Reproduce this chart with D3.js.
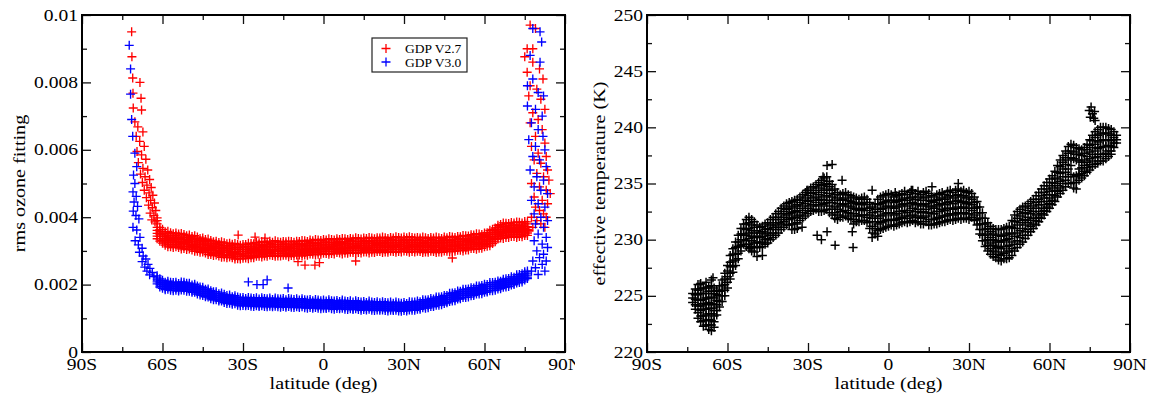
<!DOCTYPE html>
<html><head><meta charset="utf-8">
<script src="https://cdn.jsdelivr.net/npm/d3@7"></script>
<style>
body{margin:0;background:#fff}
svg{display:block}
text{font-family:"Liberation Serif","Times New Roman",serif;fill:#000}
</style>
</head><body>
<svg id="chart" width="1153" height="401"></svg>
<script>
// ---------- axis ticks ----------
const latTicks = [-90, -60, -30, 0, 30, 60, 90];
const latTickLabels = ["90S", "60S", "30S", "0", "30N", "60N", "90N"];
const latMinorTicks = [-75, -45, -15, 15, 45, 75];
const ozoneTicks = [0, 0.002, 0.004, 0.006, 0.008, 0.01];
const ozoneTickLabels = ["0", "0.002", "0.004", "0.006", "0.008", "0.01"];
const ozoneMinorTicks = [0.001, 0.003, 0.005, 0.007, 0.009];
const tempTicks = [220, 225, 230, 235, 240, 245, 250];
const tempTickLabels = ["220", "225", "230", "235", "240", "245", "250"];
const tempMinorTicks = [222.5, 227.5, 232.5, 237.5, 242.5, 247.5];
const seriesNames = ["GDP V2.7", "GDP V3.0"];

// rms values below are written in units of 1e-5 (e.g. 336 = 0.00336)
const RMS_UNIT = 1e-5;

// ---------- GDP V2.7 rms: rows = [latitude, values read at that latitude] ----------
const redBandRows = [
[-62,390,380,370,361,352,344,336],[-61,370,363,356,350,343,336,329],[-60,364,357,350,344,337,330,323],
[-59,357,351,343,335,330,324,317],[-58,358,346,339,332,326,319,312],[-57,354,346,340,333,327,319,312],
[-56,351,344,337,331,324,317,310],[-55,353,346,339,333,326,319,312],[-54,350,344,336,328,323,317,310],
[-53,352,340,333,326,320,313,306],[-52,349,341,335,328,322,314,307],[-51,345,338,331,325,318,311,304],
[-50,347,340,333,327,320,313,306],[-49,343,337,329,321,316,310,303],[-48,345,333,326,319,313,306,299],
[-47,341,333,327,320,314,306,299],[-46,337,330,323,317,310,303,296],[-45,338,331,324,318,311,304,297],
[-44,334,328,320,312,307,301,294],[-43,335,323,316,309,303,296,289],[-42,331,323,317,310,304,296,289],
[-41,327,320,313,307,300,293,286],[-40,329,322,315,309,302,295,288],[-39,325,319,311,303,298,292,285],
[-38,327,315,308,301,295,288,281],[-37,324,316,310,303,297,289,282],[-36,321,314,307,301,294,287,280],
[-35,323,316,309,303,296,289,282],[-34,320,314,306,298,293,287,280],[-33,322,310,303,296,290,283,276],
[-32,319,311,305,298,292,284,277],[-31,317,310,303,297,290,283,276],[-30,319,312,305,299,292,285,278],
[-29,319,313,305,297,292,286,279],[-28,323,311,304,297,291,284,277],[-27,322,314,308,301,295,287,280],
[-26,321,314,307,301,294,287,280],[-25,325,318,311,305,298,291,284],[-24,324,318,310,302,297,291,284],
[-23,328,316,309,302,296,289,282],[-22,327,319,313,306,300,292,285],[-21,325,318,311,305,298,291,284],
[-20,329,322,315,309,302,295,288],[-19,326,320,312,304,299,293,286],[-18,330,318,311,304,298,291,284],
[-17,327,319,313,306,300,292,285],[-16,326,319,312,306,299,292,285],[-15,328,321,314,308,301,294,287],
[-14,327,321,313,305,300,294,287],[-13,329,317,310,303,297,290,283],[-12,328,320,314,307,301,293,286],
[-11,326,319,312,306,299,292,285],[-10,329,322,315,309,302,295,288],[-9,328,322,314,306,301,295,288],
[-8,331,319,312,305,299,292,285],[-7,330,322,316,309,303,295,288],[-6,328,321,314,308,301,294,287],
[-5,332,325,318,312,305,298,291],[-4,330,324,316,308,303,297,290],[-3,334,322,315,308,302,295,288],
[-2,332,324,318,311,305,297,290],[-1,331,324,317,311,304,297,290],[0,334,327,320,314,307,300,293],
[1,332,326,318,310,305,299,292],[2,336,324,317,310,304,297,290],[3,334,326,320,313,307,299,292],
[4,332,325,318,312,305,298,291],[5,336,329,322,316,309,302,295],[6,334,328,320,312,307,301,294],
[7,337,325,318,311,305,298,291],[8,336,328,322,315,309,301,294],[9,334,327,320,314,307,300,293],
[10,337,330,323,317,310,303,296],[11,335,329,321,313,308,302,295],[12,339,327,320,313,307,300,293],
[13,337,329,323,316,310,302,295],[14,335,328,321,315,308,301,294],[15,338,331,324,318,311,304,297],
[16,337,331,323,315,310,304,297],[17,340,328,321,314,308,301,294],[18,338,330,324,317,311,303,296],
[19,336,329,322,316,309,302,295],[20,339,332,325,319,312,305,298],[21,338,332,324,316,311,305,298],
[22,341,329,322,315,309,302,295],[23,339,331,325,318,312,304,297],[24,337,330,323,317,310,303,296],
[25,340,333,326,320,313,306,299],[26,338,332,324,316,311,305,298],[27,342,330,323,316,310,303,296],
[28,340,332,326,319,313,305,298],[29,338,331,324,318,311,304,297],[30,341,334,327,321,314,307,300],
[31,339,333,325,317,312,306,299],[32,342,330,323,316,310,303,296],[33,340,332,326,319,313,305,298],
[34,338,331,324,318,311,304,297],[35,340,333,326,320,313,306,299],[36,338,332,324,316,311,305,298],
[37,341,329,322,315,309,302,295],[38,339,331,325,318,312,304,297],[39,337,330,323,317,310,303,296],
[40,340,333,326,320,313,306,299],[41,338,332,324,316,311,305,298],[42,341,329,322,315,309,302,295],
[43,339,331,325,318,312,304,297],[44,337,330,323,317,310,303,296],[45,341,334,327,321,314,307,300],
[46,339,333,325,317,312,306,299],[47,343,331,324,317,311,304,297],[48,341,333,327,320,314,306,299],
[49,340,333,326,320,313,306,299],[50,343,336,329,323,316,309,302],[51,342,336,328,320,315,309,302],
[52,346,334,327,320,314,307,300],[53,345,337,331,324,318,310,303],[54,344,337,330,324,317,310,303],
[55,348,341,334,328,321,314,307],[56,347,341,333,325,320,314,307],[57,351,339,332,325,319,312,305],
[58,350,342,336,329,323,315,308],[59,349,342,335,329,322,315,308],[60,353,346,339,333,326,319,312],
[61,354,348,340,332,327,321,314],[62,361,349,342,335,329,322,315],[63,364,356,350,343,337,329,322],
[64,368,361,354,348,341,334,327],[65,376,369,362,356,349,342,335],[66,378,372,364,356,351,345,338],
[67,383,371,364,357,351,344,337],[68,382,374,368,361,355,347,340],[69,381,374,367,361,354,347,340],
[70,384,377,370,364,357,350,343],[71,383,377,369,361,356,350,343],[72,386,374,367,360,354,347,340],
[73,385,377,371,364,358,350,343],[74,383,376,369,363,356,349,342],[75,387,380,373,367,360,353,346],
[76,386,380,372,364,359,353,346]
];
const redEdgePoints = [
[-71.5,950],[-71.4,876],[-71.1,813],[-68.4,800],[-71.0,768],[-68.0,753],[-70.9,724],[-67.8,718],[-70.3,683],
[-69.2,668],[-67.3,653],[-69.8,640],[-68.5,625],[-66.8,610],[-69.5,595],[-67.8,585],[-66.2,572],[-69.0,562],
[-67.3,545],[-65.5,540],[-68.2,528],[-66.5,520],[-64.8,512],[-67.5,503],[-65.8,495],[-64.2,488],[-66.8,480],
[-65.0,472],[-63.6,465],[-66.0,458],[-64.4,450],[-63.0,442],[-65.2,436],[-63.8,428],[-62.5,420],[-64.6,412],
[-63.2,405],[-62.0,398],[-64.0,392],[-62.8,386],
[-31.8,347],[-25.5,341],[-21.8,338],[-6.9,258],[-3.2,258],[48,279],[-9.5,268],[-1.5,265],[12,270],
[77,970],[79,960],[75.9,900],[78,900],[75,876],[78,860],[80.5,840],[75.9,830],[81.8,810],[77,790],[79.5,780],
[76.5,760],[81,750],[82.5,720],[78,710],[80,690],[77,680],[81.5,660],[79,640],[82.5,620],[77.5,610],[80,590],
[83,580],[78.5,570],[81,560],[83.5,540],[79.5,530],[82,520],[84,510],[77.5,500],[80.5,490],[83,480],[84.5,470],
[78.5,460],[81.5,450],[83.5,440],[79,430],[80.5,420],[82,410],[77.5,400],[83,400],[79.5,390],[81,380],[78,370],
[82.5,370],[76.5,360]
];

// ---------- GDP V3.0 rms ----------
const blueBandRows = [
[-62,226,220,214,208,202],[-61,217,211,205,199,193],[-60,213,207,201,195,189],[-59,207,201,195,189,185],
[-58,210,204,198,192,186],[-57,207,201,195,189,183],[-56,206,200,194,188,182],[-55,207,201,195,189,183],
[-54,203,197,191,185,181],[-53,208,202,196,190,184],[-52,207,201,195,189,183],[-51,204,198,192,186,180],
[-50,204,198,192,186,180],[-49,199,193,187,181,177],[-48,201,195,189,183,177],[-47,196,190,184,178,172],
[-46,193,187,181,175,169],[-45,192,186,180,174,168],[-44,186,180,174,168,164],[-43,187,181,175,169,163],
[-42,182,176,170,164,158],[-41,179,173,167,161,155],[-40,179,173,167,161,155],[-39,173,167,161,155,151],
[-38,175,169,163,157,151],[-37,171,165,159,153,147],[-36,168,162,156,150,144],[-35,169,163,157,151,145],
[-34,164,158,152,146,142],[-33,167,161,155,149,143],[-32,163,157,151,145,139],[-31,161,155,149,143,137],
[-30,162,156,150,144,138],[-29,159,153,147,141,137],[-28,162,156,150,144,138],[-27,160,154,148,142,136],
[-26,159,153,147,141,135],[-25,161,155,149,143,137],[-24,157,151,145,139,135],[-23,161,155,149,143,137],
[-22,159,153,147,141,135],[-21,158,152,146,140,134],[-20,160,154,148,142,136],[-19,156,150,144,138,134],
[-18,160,154,148,142,136],[-17,158,152,146,140,134],[-16,157,151,145,139,133],[-15,159,153,147,141,135],
[-14,155,149,143,137,133],[-13,159,153,147,141,135],[-12,157,151,145,139,133],[-11,156,150,144,138,132],
[-10,158,152,146,140,134],[-9,154,148,142,136,132],[-8,158,152,146,140,134],[-7,155,149,143,137,131],
[-6,154,148,142,136,130],[-5,156,150,144,138,132],[-4,152,146,140,134,130],[-3,156,150,144,138,132],
[-2,154,148,142,136,130],[-1,152,146,140,134,128],[0,154,148,142,136,130],[1,151,145,139,133,129],
[2,155,149,143,137,131],[3,152,146,140,134,128],[4,151,145,139,133,127],[5,153,147,141,135,129],
[6,150,144,138,132,128],[7,154,148,142,136,130],[8,151,145,139,133,127],[9,150,144,138,132,126],
[10,152,146,140,134,128],[11,148,142,136,130,126],[12,152,146,140,134,128],[13,150,144,138,132,126],
[14,148,142,136,130,124],[15,150,144,138,132,126],[16,147,141,135,129,125],[17,151,145,139,133,127],
[18,148,142,136,130,124],[19,147,141,135,129,123],[20,149,143,137,131,125],[21,146,140,134,128,124],
[22,149,143,137,131,125],[23,147,141,135,129,123],[24,146,140,134,128,122],[25,148,142,136,130,124],
[26,145,139,133,127,123],[27,148,142,136,130,124],[28,146,140,134,128,122],[29,145,139,133,127,121],
[30,147,141,135,129,123],[31,144,138,132,126,122],[32,149,143,137,131,125],[33,148,142,136,130,124],
[34,148,142,136,130,124],[35,151,145,139,133,127],[36,149,143,137,131,127],[37,155,149,143,137,131],
[38,154,148,142,136,130],[39,155,149,143,137,131],[40,159,153,147,141,135],[41,157,151,145,139,135],
[42,163,157,151,145,139],[43,163,157,151,145,139],[44,164,158,152,146,140],[45,168,162,156,150,144],
[46,168,162,156,150,146],[47,174,168,162,156,150],[48,175,169,163,157,151],[49,176,170,164,158,152],
[50,181,175,169,163,157],[51,180,174,168,162,158],[52,186,180,174,168,162],[53,186,180,174,168,162],
[54,187,181,175,169,163],[55,191,185,179,173,167],[56,190,184,178,172,168],[57,196,190,184,178,172],
[58,196,190,184,178,172],[59,197,191,185,179,173],[60,201,195,189,183,177],[61,200,194,188,182,178],
[62,206,200,194,188,182],[63,206,200,194,188,182],[64,207,201,195,189,183],[65,211,205,199,193,187],
[66,210,204,198,192,188],[67,216,210,204,198,192],[68,217,211,205,199,193],[69,218,212,206,200,194],
[70,223,217,211,205,199],[71,222,216,210,204,200],[72,229,223,217,211,205],[73,230,224,218,212,206],
[74,232,226,220,214,208],[75,238,232,226,220,214],[76,240,234,228,222,218]
];
const blueEdgePoints = [
[-72.4,910],[-71.9,840],[-71.9,765],[-71.5,690],[-71.1,640],[-70.3,590],[-69.6,550],[-70.8,525],[-70.3,500],
[-71.0,475],[-69.8,462],[-70.6,445],[-69.3,432],[-70.9,418],[-69.9,405],[-68.8,395],[-71.0,370],[-69.6,362],
[-68.4,340],[-70.2,330],[-69.0,318],[-67.6,308],[-68.6,296],[-67.2,285],[-66.2,276],[-67.6,268],[-65.4,260],
[-66.6,252],[-64.7,248],[-65.8,240],[-63.8,236],[-64.8,229],[-63.2,224],
[-28,208],[-24.8,200],[-22.5,200],[-21,214],[-13.2,190],
[78,960],[80.7,950],[81.3,920],[77,880],[80.7,860],[78,810],[76,790],[80,770],[82,760],[76,730],[79,720],[81.5,700],
[77.5,680],[80,660],[81.8,640],[76.5,630],[79,610],[82.5,600],[78,580],[80.5,570],[83,550],[77,540],[79.5,520],
[82,510],[78.5,490],[81,480],[83.5,470],[77.5,450],[80,440],[82.5,430],[78.5,410],[81,400],[83.5,390],[79,380],
[82,370],[80,350],[83,340],[78.5,330],[81.5,320],[83.5,310],[79.5,300],[82,290],[80.5,280],[83,270],[78,270],
[81.5,260],[79,250],[82.5,240],[80,230],[77.5,240]
];

// ---------- effective temperature (K) ----------
const tempRows = [
[-73,225.2,224.8,224.4],[-72,225.6,225.1,224.7,224.2,223.8],[-71,226.0,225.5,225.1,224.6,224.1,223.5,223.0],
[-70,226.1,225.6,225.2,224.6,224.1,223.7,223.2,222.7],[-69,225.7,225.2,224.7,224.3,223.8,223.2,222.8,222.3],
[-68,226.2,225.7,225.2,224.8,224.2,223.8,223.3,222.8,222.4],[-67,225.8,225.4,224.8,224.4,223.9,223.4,222.9,222.4,222.0],
[-66,226.4,225.9,225.4,224.9,224.3,223.9,223.4,222.8,222.4,221.9],[-65,225.7,225.2,224.8,224.2,223.7,223.2,222.7,222.2],
[-64,225.5,225.1,224.6,224.2,223.7,223.3],[-63,225.9,225.4,225.0,224.5,224.0],[-62,226.4,225.9,225.5,225.0,224.5],
[-61,227.0,226.5,226.0,225.5,225.0],[-60,227.7,227.2,226.7,226.2,225.7],[-59,228.6,228.0,227.6,227.0,226.5],
[-58,229.2,228.7,228.1,227.6,227.1],[-57,229.8,229.3,228.7,228.2,227.7],[-56,230.4,229.8,229.4,228.8,228.3],
[-55,231.0,230.5,230.0,229.5,229.0],[-54,231.4,231.0,230.5,230.0,229.6],[-53,231.8,231.4,230.9,230.4,229.9,229.4],
[-52,232.0,231.5,231.0,230.6,230.1,229.6,229.2],[-51,231.8,231.3,230.8,230.3,229.9,229.4,229.0],
[-50,231.6,231.1,230.6,230.2,229.7,229.3,228.9],[-49,231.3,230.8,230.3,229.8,229.3],[-48,231.1,230.6,230.2,229.7,229.3],
[-47,231.2,230.7,230.3,229.8,229.4],[-46,231.4,230.9,230.5,230.0,229.6],[-45,231.5,231.0,230.6,230.1,229.7],
[-44,231.8,231.3,230.9,230.4,230.0],[-43,232.0,231.5,231.1,230.6,230.2],[-42,232.3,231.8,231.3,230.9,230.4],
[-41,232.5,232.0,231.5,231.1,230.6],[-40,232.8,232.3,231.8,231.4,230.9],[-39,233.0,232.5,232.0,231.6,231.1],
[-38,233.2,232.7,232.2,231.8,231.3],[-37,233.3,232.8,232.3,231.8,231.3],[-36,233.4,232.9,232.4,231.9,231.4,230.9],
[-35,233.5,233.0,232.5,232.0,231.4,230.9],[-34,233.6,233.1,232.6,232.1,231.5,231.0],[-33,233.8,233.3,232.8,232.2,231.7],
[-32,234.0,233.5,233.0,232.4,231.9],[-31,234.2,233.7,233.2,232.6,232.1],[-30,234.4,233.9,233.4,232.8,232.3],
[-29,234.6,234.1,233.5,233.0,232.5],[-28,234.7,234.2,233.7,233.1,232.6],[-27,234.9,234.4,233.8,233.3,232.7],
[-26,235.1,234.6,234.0,233.5,233.0,232.5],[-25,235.3,234.8,234.2,233.6,233.1,232.5],[-24,235.5,234.9,234.4,233.8,233.2,232.6],
[-23,235.6,235.0,234.5,233.9,233.3,232.7],[-22,235.2,234.7,234.1,233.5,233.0,232.4],[-21,234.9,234.4,233.8,233.3,232.7,232.2],
[-20,234.5,234.0,233.5,232.9,232.4,231.9],[-19,234.2,233.7,233.2,232.7,232.2,231.8],[-18,234.0,233.5,233.0,232.5,232.0],
[-17,234.1,233.6,233.1,232.5,232.0],[-16,234.2,233.7,233.2,232.6,232.1],[-15,234.0,233.5,233.0,232.4,231.9],
[-14,233.9,233.4,232.9,232.3,231.8],[-13,233.8,233.3,232.8,232.3,231.8,231.4],[-12,233.7,233.2,232.7,232.1,231.6],
[-11,233.6,233.1,232.6,232.1,231.6],[-10,233.7,233.2,232.7,232.2,231.7],[-9,233.8,233.3,232.8,232.2,231.7],
[-8,233.6,233.1,232.6,232.0,231.5],[-7,233.3,232.8,232.2,231.6,231.0],[-6,232.9,232.4,231.9,231.2,230.6],
[-5,233.2,232.7,232.1,231.6,231.0,230.5],[-4,233.6,233.1,232.5,231.9,231.4,230.8],[-3,233.8,233.2,232.7,232.1,231.5,230.9],
[-2,233.9,233.3,232.8,232.2,231.6,231.0],[-1,234.0,233.4,232.9,232.3,231.7,231.1],[0,234.1,233.5,233.0,232.4,231.8,231.2],
[1,234.0,233.5,232.9,232.4,231.8,231.3],[2,233.8,233.3,232.8,232.2,231.7,231.2],[3,233.9,233.4,232.9,232.3,231.8,231.3],
[4,234.0,233.5,233.0,232.5,231.9,231.4],[5,234.1,233.6,233.1,232.5,232.0,231.5],[6,234.3,233.7,233.2,232.6,232.1,231.6],
[7,234.0,233.5,233.0,232.4,231.9,231.5],[8,234.2,233.7,233.2,232.6,232.1,231.6],[9,234.4,233.8,233.3,232.8,232.2,231.7],
[10,234.1,233.6,233.1,232.5,232.0,231.5],[11,234.3,233.8,233.2,232.7,232.1,231.6],[12,234.0,233.5,233.0,232.4,231.9,231.4],
[13,234.2,233.7,233.1,232.5,232.0,231.4],[14,234.3,233.8,233.2,232.7,232.1,231.6],[15,234.1,233.5,233.0,232.4,231.8,231.3],
[16,233.9,233.4,232.9,232.3,231.8,231.3],[17,233.8,233.3,232.8,232.3,231.8,231.4],[18,234.0,233.5,233.0,232.5,231.9,231.4],
[19,234.1,233.6,233.1,232.5,232.0,231.5],[20,234.2,233.7,233.2,232.7,232.1,231.6],[21,234.0,233.6,233.1,232.6,232.1,231.6],
[22,234.3,233.8,233.3,232.8,232.2,231.7],[23,234.4,233.9,233.4,232.8,232.3,231.8],[24,234.2,233.7,233.2,232.7,232.2,231.7],
[25,234.4,233.9,233.4,232.8,232.3,231.8],[26,234.5,234.0,233.5,232.9,232.4,231.9],[27,234.3,233.8,233.3,232.8,232.3,231.8],
[28,234.4,233.9,233.4,232.9,232.4,231.9],[29,234.2,233.7,233.2,232.8,232.3,231.9],[30,234.3,233.8,233.3,232.8,232.3,231.8],
[31,234.1,233.6,233.1,232.6,232.0],[32,233.8,233.3,232.8,232.2,231.7],[33,233.4,232.9,232.4,231.8,231.3],
[34,232.9,232.4,231.9,231.4,230.9,230.5],[35,232.4,231.9,231.4,230.9,230.4,229.9],[36,231.9,231.4,230.9,230.4,229.9,229.4],
[37,231.5,231.0,230.5,230.0,229.5,229.0],[38,231.2,230.7,230.2,229.7,229.2,228.7],[39,231.0,230.5,230.0,229.5,229.0,228.5],
[40,230.9,230.4,229.9,229.4,228.9,228.4],[41,230.9,230.4,229.8,229.3,228.7,228.2],[42,230.9,230.3,229.8,229.2,228.6,228.1],
[43,231.0,230.4,229.9,229.4,228.8,228.3],[44,231.1,230.5,230.0,229.4,228.9,228.3],[45,231.2,230.6,230.1,229.5,229.0,228.4],
[46,231.7,231.1,230.5,229.8,229.2,228.6],[47,232.2,231.6,231.0,230.3,229.6,229.0],[48,232.5,231.9,231.3,230.6,229.9,229.3],
[49,232.7,232.1,231.5,230.8,230.2,229.6],[50,232.9,232.3,231.7,231.0,230.4,229.8],[51,233.0,232.4,231.8,231.3,230.7,230.1],
[52,233.2,232.6,232.0,231.5,230.9,230.4],[53,233.4,232.8,232.3,231.7,231.2,230.7],[54,233.6,233.0,232.5,231.9,231.4,231.0],
[55,233.9,233.3,232.8,232.2,231.7,231.3],[56,234.2,233.6,233.1,232.5,232.0,231.6],[57,234.5,233.9,233.4,232.8,232.3,231.9],
[58,234.8,234.2,233.7,233.1,232.6,232.2],[59,235.1,234.5,234.0,233.4,232.9,232.5],[60,235.4,234.8,234.3,233.7,233.2,232.8],
[61,235.7,235.1,234.6,234.0,233.5,233.1],[62,236.1,235.5,235.0,234.4,233.9,233.4],[63,236.6,236.0,235.4,234.8,234.3,233.8],
[64,237.1,236.5,235.9,235.2,234.6,234.1],[65,237.5,236.9,236.3,235.6,235.0,234.4],[66,237.9,237.3,236.7,236.0,235.3,234.7],
[67,238.3,237.7,237.1,236.3,235.6,235.0],[68,238.5,237.9,237.3,236.6,235.8,235.0],[69,238.4,237.8,237.2,235.6,235.1,234.6],
[70,238.2,237.6,237.1,235.7,235.1,234.5],[71,238.1,237.6,237.0,236.3,235.8,235.3],[72,238.0,237.5,236.9,236.4,235.9,235.5],
[73,238.2,237.7,237.1,236.6,236.1,235.7],[74,238.5,238.0,237.4,236.9,236.4,236.0],[75,238.9,238.4,237.8,237.2,236.7,236.2],
[76,239.3,238.8,238.2,237.6,237.0,236.5],[77,239.6,239.1,238.5,237.9,237.3,236.7],[78,239.8,239.3,238.7,238.1,237.4,236.8],
[79,240.0,239.4,238.8,238.2,237.6,237.0],[80,240.0,239.5,238.9,238.3,237.6,237.0],[81,240.0,239.5,238.9,238.3,237.7,237.2],
[82,239.9,239.4,238.9,238.4,237.9,237.4],[83,239.8,239.3,238.8,238.3,237.9,237.6],[84,239.6,239.1,238.6,238.2],
[85,239.3,238.9,238.6]
];
const tempScatterPoints = [
[74.8,241.5],[75.5,241.8],[76,241.2],[76.5,240.8],[77,240.6],[75.2,240.9],[76.8,241.4],
[-32.2,231.1],[-26.6,230.4],[-25,230.0],[-22.9,230.7],[-19.9,229.5],[-13.2,229.3],[-13.5,230.7],
[-49,228.5],[-51.6,229.3],[-47,228.6],[-70.2,226.0],[-65.4,226.6],[-6.1,230.2],[-4,230.3],
[-22.9,236.6],[-21,236.7],[-17.3,235.3],[-6.1,234.4],[2.5,234.2],[8.5,234.4],[16.2,234.7],[26,235.0],
[-30.4,234.4],[-24.4,235.6]
];

// ---------- drawing ----------
const svg = d3.select("#chart");
const rowsToPoints = (rows, unit) => rows.flatMap(([lat, ...vs]) => vs.map(v => [lat, v * unit]));
const scalePts = (pts, unit) => pts.map(([lat, v]) => [lat, v * unit]);
const plus = "M-4.5,0H4.5M0,-4.5V4.5";
const TICK_FS = 17, TICK_SX = 1.15, TITLE_FS = 17.5, TITLE_SX = 1.15;

svg.append("defs").append("clipPath").attr("id", "leftClip")
  .append("rect").attr("x", 0).attr("y", 0).attr("width", 575).attr("height", 401);

function panel(g, box, yDomain, yTicks, yLabels, yMinor, yTitle, yTitleX) {
  const x = d3.scaleLinear().domain([-90, 90]).range([box.l, box.r]);
  const y = d3.scaleLinear().domain(yDomain).range([box.b, box.t]);
  const axes = g.append("g");
  const addAxis = (axis, tr) => {
    const a = axes.append("g").attr("transform", tr).call(axis);
    a.select(".domain").remove();
    a.selectAll("line").attr("stroke", "#111").attr("stroke-width", 1.3);
  };
  [[latTicks, 9], [latMinorTicks, 5]].forEach(([tv, s]) => {
    addAxis(d3.axisBottom(x).tickValues(tv).tickSize(-s).tickSizeOuter(0).tickFormat(""), `translate(0,${box.b})`);
    addAxis(d3.axisTop(x).tickValues(tv).tickSize(-s).tickSizeOuter(0).tickFormat(""), `translate(0,${box.t})`);
  });
  [[yTicks, 9], [yMinor, 5]].forEach(([tv, s]) => {
    addAxis(d3.axisLeft(y).tickValues(tv).tickSize(-s).tickSizeOuter(0).tickFormat(""), `translate(${box.l},0)`);
    addAxis(d3.axisRight(y).tickValues(tv).tickSize(-s).tickSizeOuter(0).tickFormat(""), `translate(${box.r},0)`);
  });
  g.append("rect").attr("x", box.l).attr("y", box.t).attr("width", box.r - box.l).attr("height", box.b - box.t)
    .attr("fill", "none").attr("stroke", "#000").attr("stroke-width", 2);
  g.selectAll(null).data(latTicks).join("text")
    .attr("transform", d => `translate(${x(d)},${box.b + 18}) scale(${TICK_SX},1)`)
    .attr("text-anchor", "middle").style("font-size", TICK_FS + "px")
    .text((d, i) => latTickLabels[i]);
  g.selectAll(null).data(yTicks).join("text")
    .attr("transform", d => `translate(${box.l - 4},${y(d) + TICK_FS * 0.33}) scale(${TICK_SX},1)`)
    .attr("text-anchor", "end").style("font-size", TICK_FS + "px")
    .text((d, i) => yLabels[i]);
  g.append("text").attr("transform", `translate(${(box.l + box.r) / 2},${box.b + 37}) scale(${TITLE_SX},1)`)
    .attr("text-anchor", "middle").style("font-size", TITLE_FS + "px").text("latitude (deg)");
  g.append("text").attr("transform", `translate(${yTitleX},${(box.t + box.b) / 2}) rotate(-90) scale(${TITLE_SX},1)`)
    .attr("text-anchor", "middle").style("font-size", TITLE_FS + "px").text(yTitle);
  return {x, y};
}

function marks(g, pts, sc, color, sw) {
  g.append("g").selectAll("path").data(pts).join("path")
    .attr("d", plus)
    .attr("transform", d => `translate(${sc.x(d[0])},${sc.y(d[1])})`)
    .attr("fill", "none").attr("stroke", color).attr("stroke-width", sw);
}

// left panel
const gL = svg.append("g").attr("clip-path", "url(#leftClip)");
const boxL = {l: 82, r: 565, t: 15, b: 352};
const scL = panel(gL, boxL, [0, 0.01], ozoneTicks, ozoneTickLabels, ozoneMinorTicks, "rms ozone fitting", 25);
const dataL = gL.append("g");
marks(dataL, rowsToPoints(redBandRows, RMS_UNIT).concat(scalePts(redEdgePoints, RMS_UNIT)), scL, "#ff0000", 1.35);
marks(dataL, rowsToPoints(blueBandRows, RMS_UNIT).concat(scalePts(blueEdgePoints, RMS_UNIT)), scL, "#0000ff", 1.35);

// legend
const lg = gL.append("g");
lg.append("rect").attr("x", 372).attr("y", 38).attr("width", 95).attr("height", 34)
  .attr("fill", "#fff").attr("stroke", "#222").attr("stroke-width", 1.2);
["#ff0000", "#0000ff"].forEach((c, i) => {
  lg.append("path").attr("d", plus).attr("transform", `translate(386,${48.5 + i * 13.5})`)
    .attr("fill", "none").attr("stroke", c).attr("stroke-width", 1.3);
  lg.append("text").attr("x", 405).attr("y", 53 + i * 13.5).style("font-size", "13.5px").text(seriesNames[i]);
});

// right panel
const gR = svg.append("g");
const boxR = {l: 647, r: 1130, t: 15, b: 352};
const scR = panel(gR, boxR, [220, 250], tempTicks, tempTickLabels, tempMinorTicks, "effective temperature (K)", 605);
marks(gR.append("g"), rowsToPoints(tempRows, 1).concat(tempScatterPoints), scR, "#000", 1.5);
</script>
</body></html>
